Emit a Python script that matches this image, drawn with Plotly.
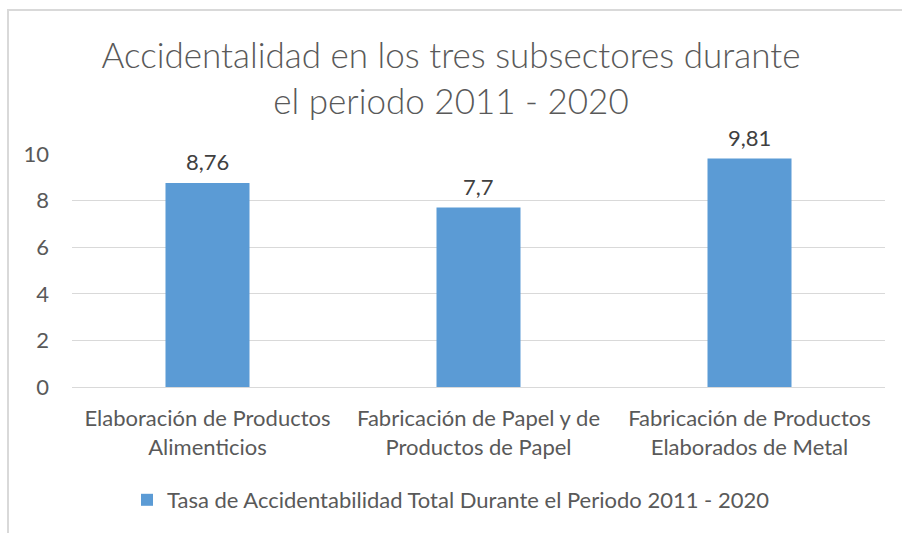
import plotly.graph_objects as go

categories = [
    "Elaboración de Productos<br>Alimenticios",
    "Fabricación de Papel y de<br>Productos de Papel",
    "Fabricación de Productos<br>Elaborados de Metal",
]
values = [8.76, 7.7, 9.81]
series_name = "Tasa de Accidentabilidad Total Durante el Periodo 2011 - 2020"
title_text = "Accidentalidad en los tres subsectores durante<br>el periodo 2011 - 2020"

# labels use a decimal comma like the original
labels = [str(v).replace(".", ",") for v in values]

FONT = "Lato"
GREY = "#595959"

fig = go.Figure()
fig.add_trace(go.Bar(
    x=categories,
    y=values,
    name=series_name,
    marker=dict(color="#5B9BD5", line=dict(width=0)),
    showlegend=True,
))

# value labels sit a bit above each bar
for cat, val, lab in zip(categories, values, labels):
    fig.add_annotation(
        x=cat, y=val, text=lab, showarrow=False,
        yanchor="middle", yshift=21,
        font=dict(family=FONT, size=22, color="#404040"),
    )

fig.update_layout(
    width=902,
    height=533,
    paper_bgcolor="white",
    plot_bgcolor="white",
    font=dict(family=FONT, color=GREY, size=22),
    title=dict(
        text=title_text,
        x=0.5, xref="container", xanchor="center",
        y=1 - 68 / 533, yref="container", yanchor="middle",
        font=dict(family=FONT, size=35, color=GREY, weight=300),
    ),
    margin=dict(l=72, r=17, t=154, b=146),
    bargap=0.69,
    showlegend=True,
    legend=dict(
        orientation="h",
        x=0.5, xref="container", xanchor="center",
        y=1 - 500 / 533, yref="container", yanchor="middle",
        font=dict(family=FONT, size=22, color=GREY),
        itemwidth=30,
    ),
    hovermode=False,
    shapes=[dict(
        type="rect", xref="paper", yref="paper",
        x0=(8 - 72) / 813, x1=1.2,
        y0=-1.0, y1=(387 - 10) / 233,
        line=dict(color="#D9D9D9", width=2),
        fillcolor="rgba(0,0,0,0)",
        layer="below",
    )],
)

fig.update_xaxes(
    showgrid=False,
    showline=True,
    linecolor="#D9D9D9",
    linewidth=1,
    ticks="",
    ticklabelstandoff=12,
    tickfont=dict(family=FONT, size=22, color=GREY),
)
fig.update_yaxes(
    range=[0, 10],
    dtick=2,
    showgrid=True,
    gridcolor="#D9D9D9",
    gridwidth=1,
    zeroline=False,
    showline=False,
    ticks="",
    ticklabelstandoff=22,
    tickfont=dict(family=FONT, size=22, color=GREY),
)

fig.write_html("out.html", config={"displayModeBar": False},
               post_script="document.body.style.margin='0';")
